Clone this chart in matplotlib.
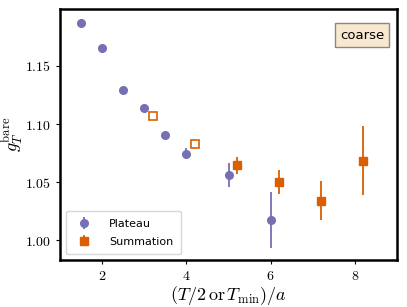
import numpy as np
import matplotlib
matplotlib.use('Agg')
import matplotlib.pyplot as plt
from matplotlib.ticker import FuncFormatter

# plateau fits
plat_x = [1.5, 2.0, 2.5, 3.0, 3.5, 4.0, 5.0, 6.0]
plat_y = [1.1873, 1.1653, 1.1295, 1.1140, 1.0908, 1.0745, 1.0562, 1.0175]
plat_err = [0.0008, 0.0008, 0.0010, 0.0012, 0.0025, 0.0050, 0.0100, 0.0243]

# summation fits (first two open)
summ_x = [3.2, 4.2, 5.2, 6.2, 7.2, 8.2]
summ_y = [1.1071, 1.0828, 1.0644, 1.0498, 1.0341, 1.0685]
summ_err = [0.0012, 0.0035, 0.0075, 0.0103, 0.0170, 0.0295]
summ_open = [True, True, False, False, False, False]

c_plat = '#7570b3'
c_summ = '#d95f02'

plt.rcParams['mathtext.fontset'] = 'cm'

fig = plt.figure(figsize=(4.07, 3.07), dpi=100)
ax = fig.add_axes([60/407, 1-260/307, 337/407, 251/307])

ax.errorbar(plat_x, plat_y, yerr=plat_err, fmt='o', color=c_plat, ms=5.5, elinewidth=1.3,
            capsize=0, label='Plateau')
sx = np.array(summ_x); sy = np.array(summ_y); se = np.array(summ_err); so = np.array(summ_open)
ax.errorbar(sx[~so], sy[~so], yerr=se[~so], fmt='s', color=c_summ, ms=5.5, elinewidth=1.3,
            capsize=0, label='Summation')
ax.errorbar(sx[so], sy[so], yerr=se[so], fmt='s', color=c_summ, mfc='white', mec=c_summ,
            mew=1.2, ms=5.5, elinewidth=1.3, capsize=0)

ax.set_xlim(1.0, 9.0)
ax.set_ylim(0.983, 1.199)
ax.set_xticks([2, 4, 6, 8])
ax.set_yticks([1.00, 1.05, 1.10, 1.15])
ax.xaxis.set_major_formatter(FuncFormatter(lambda v, p: r'$%d$' % v))
ax.yaxis.set_major_formatter(FuncFormatter(lambda v, p: r'$%.2f$' % v))
ax.tick_params(labelsize=10, length=3)
for s in ax.spines.values():
    s.set_linewidth(1.8)

ax.set_xlabel(r'$(T/2\,\mathrm{or}\,T_{\mathrm{min}})/a$', fontsize=13, labelpad=1)
ax.set_ylabel(r'$g_T^{\mathrm{bare}}$', fontsize=13, labelpad=0)

ax.legend(loc='lower left', fontsize=8, handletextpad=1.2, borderpad=0.7, labelspacing=0.7)
ax.text(0.896, 0.896, 'coarse', transform=ax.transAxes, ha='center', va='center', fontsize=9.5,
        bbox=dict(boxstyle='square,pad=0.4', facecolor='#f8e8d0', edgecolor='#888888'))

fig.savefig('out.png', dpi=100)
